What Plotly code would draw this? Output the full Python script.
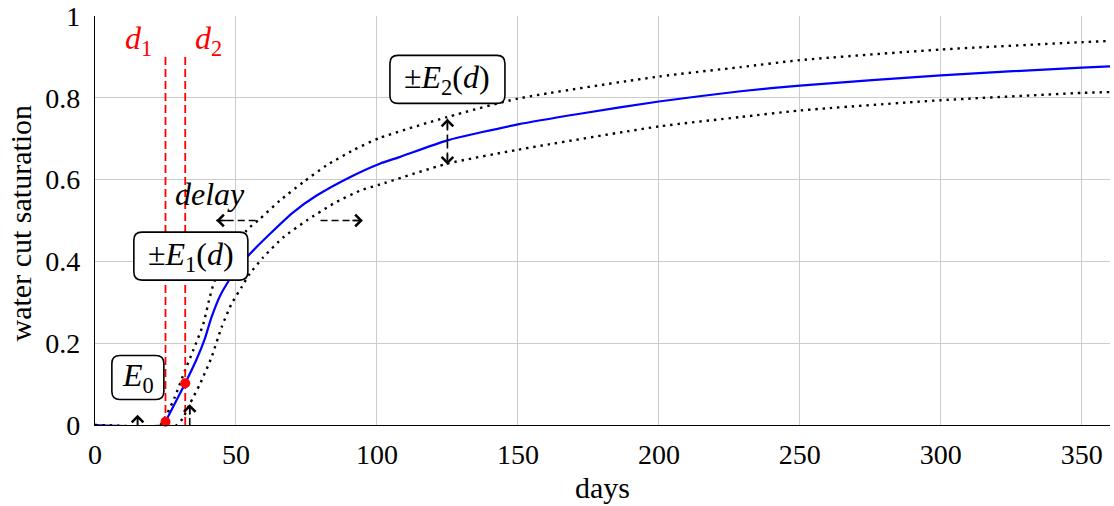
import plotly.graph_objects as go

# ---------------- data ----------------
blue_days = [0, 24.5, 25, 28.5, 32, 36, 39, 41.3, 44.3, 47.8, 50, 54.9, 62, 70.3, 78.6,
             90.4, 101, 108, 125, 150, 172, 200, 229, 250, 300, 350, 360]
blue_vals = [0, 0, 0.008, 0.055, 0.102, 0.16, 0.212, 0.263, 0.315, 0.357, 0.38, 0.418,
             0.467, 0.52, 0.561, 0.606, 0.639, 0.655, 0.696, 0.735, 0.761, 0.791, 0.816,
             0.83, 0.855, 0.874, 0.877]

upper_days = [0, 23, 25, 28.3, 31.9, 34.8, 38.4, 40.7, 42.5, 53.8, 58.5, 65.6, 73.9,
              82.2, 91.6, 101, 125, 150, 200, 229, 250, 300, 350, 360]
upper_vals = [0, 0, 0.02, 0.068, 0.133, 0.182, 0.247, 0.312, 0.353, 0.476, 0.504, 0.549,
              0.594, 0.635, 0.672, 0.702, 0.753, 0.798, 0.852, 0.875, 0.892, 0.918, 0.936, 0.939]

lower_days = [0, 29, 31, 33.6, 37.2, 41.3, 44.9, 48.4, 52, 54.9, 59.7, 66.8, 75.1, 84.5,
              94, 101, 125, 150, 200, 229, 250, 300, 350, 360]
lower_vals = [0, 0, 0.015, 0.051, 0.1, 0.165, 0.239, 0.296, 0.337, 0.37, 0.41, 0.459,
              0.5, 0.541, 0.573, 0.588, 0.639, 0.673, 0.73, 0.753, 0.769, 0.794, 0.812, 0.814]

d_days = [25, 32]                 # d1, d2
d_dot_vals = [0.008, 0.102]
d_line_top = 0.9
d_labels = ["<i>d</i><sub>1</sub>", "<i>d</i><sub>2</sub>"]
d_label_x = [15.5, 40.4]
d_label_y = 0.939

box_texts = ["<i>E</i><sub>0</sub>", "±<i>E</i><sub>1</sub>(<i>d</i>)", "±<i>E</i><sub>2</sub>(<i>d</i>)"]
box_x = [15.2, 34.0, 125.0]
box_y = [0.116, 0.413, 0.845]
box_w_px = [52, 114, 115]
box_h_px = [44, 48, 48]

delay_text = "<i>delay</i>"
delay_x, delay_y = 40.7, 0.566

# arrows: (tail_x, tail_y, head_x, head_y)
arrow_tail_x = [57, 80, 125, 125, 15.1, 33.6]
arrow_tail_y = [0.5, 0.5, 0.693, 0.693, 0.0, 0.0]
arrow_head_x = [43, 95, 125, 125, 15.1, 33.6]
arrow_head_y = [0.5, 0.5, 0.749, 0.637, 0.025, 0.051]

x_tick_vals = [0, 50, 100, 150, 200, 250, 300, 350]
x_tick_labels = ["0", "50", "100", "150", "200", "250", "300", "350"]
y_tick_vals = [0, 0.2, 0.4, 0.6, 0.8, 1.0]
y_tick_labels = ["0", "0.2", "0.4", "0.6", "0.8", "1"]

FONT = "Liberation Serif, DejaVu Serif, serif"
FS = 28
FS_BOX = 32

fig = go.Figure()

dotted = dict(color="black", width=2.4, dash="2.4px,4.9px")
fig.add_trace(go.Scatter(x=blue_days, y=blue_vals, mode="lines",
                         line=dict(color="#0000ff", width=2.2, shape="spline", smoothing=0.6),
                         hoverinfo="skip", showlegend=False))
fig.add_trace(go.Scatter(x=upper_days, y=upper_vals, mode="lines",
                         line=dict(**dotted, shape="spline", smoothing=0.6),
                         hoverinfo="skip", showlegend=False))
fig.add_trace(go.Scatter(x=lower_days, y=lower_vals, mode="lines",
                         line=dict(**dotted, shape="spline", smoothing=0.6),
                         hoverinfo="skip", showlegend=False))

# red dashed verticals
for dx in d_days:
    fig.add_trace(go.Scatter(x=[dx, dx], y=[0, d_line_top], mode="lines",
                             line=dict(color="#ff0000", width=1.8, dash="8px,4px"),
                             hoverinfo="skip", showlegend=False))
fig.add_trace(go.Scatter(x=d_days, y=d_dot_vals, mode="markers",
                         marker=dict(color="#ff0000", size=10),
                         cliponaxis=False, hoverinfo="skip", showlegend=False))

annotations = []
STUB = 12  # pixel length of the solid stub carrying the arrow head
for tx, ty, hx, hy in zip(arrow_tail_x, arrow_tail_y, arrow_head_x, arrow_head_y):
    fig.add_trace(go.Scatter(x=[tx, hx], y=[ty, hy], mode="lines",
                             line=dict(color="black", width=1.6, dash="7px,4px"),
                             hoverinfo="skip", showlegend=False))
    if tx != hx:
        axp, ayp = (STUB if tx > hx else -STUB), 0
    else:
        axp, ayp = 0, (STUB if ty < hy else -STUB)
    annotations.append(dict(x=hx, y=hy, ax=axp, ay=ayp, xref="x", yref="y",
                            axref="pixel", ayref="pixel", text="", showarrow=True,
                            arrowhead=4, arrowsize=1.5, arrowwidth=1.5,
                            arrowcolor="black"))

shapes = []
r = 8
for cx, cy, w, h in zip(box_x, box_y, box_w_px, box_h_px):
    hw, hh = w / 2, h / 2
    path = (f"M {-hw + r},{-hh} L {hw - r},{-hh} Q {hw},{-hh} {hw},{-hh + r} "
            f"L {hw},{hh - r} Q {hw},{hh} {hw - r},{hh} L {-hw + r},{hh} "
            f"Q {-hw},{hh} {-hw},{hh - r} L {-hw},{-hh + r} Q {-hw},{-hh} {-hw + r},{-hh} Z")
    shapes.append(dict(type="path", xref="x", yref="y", xsizemode="pixel",
                       ysizemode="pixel", xanchor=cx, yanchor=cy, path=path,
                       line=dict(color="black", width=1.6), fillcolor="white",
                       layer="above"))

for t, cx, cy in zip(box_texts, box_x, box_y):
    annotations.append(dict(x=cx, y=cy, xref="x", yref="y", text=t, showarrow=False,
                            font=dict(family=FONT, size=FS_BOX, color="black"),
                            xanchor="center", yanchor="middle"))

for t, lx in zip(d_labels, d_label_x):
    annotations.append(dict(x=lx, y=d_label_y, xref="x", yref="y", text=t,
                            showarrow=False, font=dict(family=FONT, size=FS_BOX, color="#ff0000"),
                            xanchor="center", yanchor="middle"))

annotations.append(dict(x=delay_x, y=delay_y, xref="x", yref="y", text=delay_text,
                        showarrow=False, font=dict(family=FONT, size=FS_BOX, color="black"),
                        xanchor="center", yanchor="middle"))

# axis titles
annotations.append(dict(x=0.5, y=-0.152, xref="paper", yref="paper", text="days",
                        showarrow=False, font=dict(family=FONT, size=30, color="black"),
                        xanchor="center", yanchor="middle"))
annotations.append(dict(x=-0.073, y=0.495, xref="paper", yref="paper",
                        text="water cut saturation", textangle=-90,
                        showarrow=False, font=dict(family=FONT, size=30, color="black"),
                        xanchor="center", yanchor="middle"))

fig.update_layout(
    width=1114, height=506,
    margin=dict(l=95, r=4, t=16, b=81, autoexpand=False),
    paper_bgcolor="white", plot_bgcolor="white",
    font=dict(family=FONT, size=FS, color="black"),
    shapes=shapes, annotations=annotations,
    xaxis=dict(range=[0, 360], tickvals=x_tick_vals, ticktext=x_tick_labels,
               showgrid=True, gridcolor="#cccccc", gridwidth=1,
               showline=True, linecolor="black", linewidth=1.4,
               zeroline=False, ticks="", ticklabelstandoff=4, automargin=False,
               tickfont=dict(family=FONT, size=FS, color="black"), fixedrange=True),
    yaxis=dict(range=[0, 1], tickvals=y_tick_vals, ticktext=y_tick_labels,
               showgrid=True, gridcolor="#cccccc", gridwidth=1,
               showline=True, linecolor="black", linewidth=1.4,
               zeroline=False, ticks="", ticklabelstandoff=8, automargin=False,
               tickfont=dict(family=FONT, size=FS, color="black"), fixedrange=True),
)

fig.write_html("out.html", config={"displayModeBar": False},
               post_script="document.body.style.margin='0';document.body.style.padding='0';")
